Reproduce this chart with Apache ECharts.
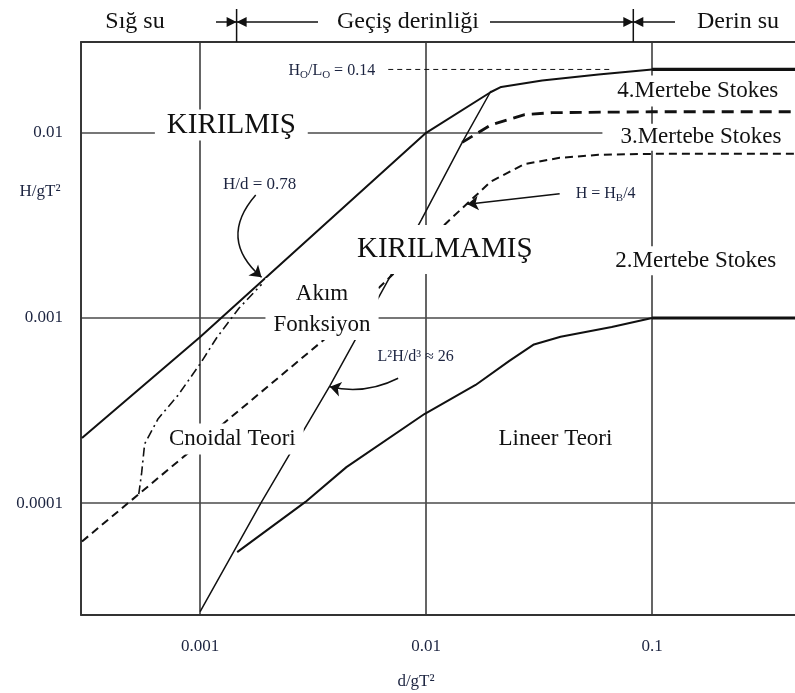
<!DOCTYPE html>
<html><head><meta charset="utf-8">
<script src="https://cdn.jsdelivr.net/npm/echarts@6/dist/echarts.min.js"></script>
<style>html,body{margin:0;padding:0;background:#fff}#c{width:795px;height:693px}</style>
</head><body><div id="c"></div>
<script>
// ---- axes ----
const xTickLabels = ['0.001', '0.01', '0.1'];
const yTickLabels = ['0.0001', '0.001', '0.01'];
const xRange = [0.000297, 0.447];
const yRange = [0.0000249, 0.03095];

// ---- curves (d/gT², H/gT²) ----
const breakingLimit = [[0.0003,0.000225],[0.001,0.00079],[0.01,0.01],[0.01936,0.01662],[0.02149,0.01771],[0.03263,0.0192],[0.0579,0.02065],[0.1,0.022]];
const deepBreaking = [[0.1,0.022],[0.45,0.022]];
const steepnessRef = [[0.0068,0.022],[0.066,0.022]];
const quarterBreaking = [[0.0003,0.0000621],[0.00375,0.000812],[0.01275,0.0034],[0.01936,0.00546],[0.02732,0.00679],[0.03897,0.00733],[0.0579,0.00761],[0.1,0.0077],[0.45,0.0077]];
const stokes34 = [[0.01445,0.00888],[0.01936,0.01104],[0.02732,0.01254],[0.0362,0.01286],[0.1,0.013],[0.45,0.013]];
const ursell = [[0.001,0.000026],[0.00187,0.0001016],[0.00375,0.00043],[0.00954,0.0034],[0.01445,0.00888],[0.01936,0.01683]];
const linearLimit = [[0.001459,0.0000544],[0.002924,0.0001016],[0.00444,0.0001566],[0.00983,0.000303],[0.01656,0.000435],[0.02336,0.000587],[0.03001,0.00072],[0.03937,0.000793],[0.0663,0.000894],[0.1,0.001]];
const deepLinear = [[0.1,0.001],[0.45,0.001]];
const streamLimit = [[0.000535,0.0001118],[0.000551,0.0001457],[0.000568,0.000209],[0.000652,0.000286],[0.000796,0.000381],[0.001,0.000566],[0.001184,0.000783],[0.001488,0.001132],[0.00187,0.00152]];
const depthZoneLimits = [0.00145, 0.0826];

// ---- texts ----
const zoneTexts = ['Sığ su', 'Geçiş derinliği', 'Derin su'];
const regionTexts = ['KIRILMIŞ', 'KIRILMAMIŞ', 'Akım\nFonksiyon', 'Cnoidal Teori', 'Lineer Teori', '2.Mertebe Stokes', '3.Mertebe Stokes', '4.Mertebe Stokes'];
const noteTexts = ['H/d = 0.78', 'H = H{s|B}/4', 'L²H/d³ ≈ 26', 'H{s|O}/L{s|O} = 0.14'];
const axisNames = ['d/gT²', 'H/gT²'];

const SERIF = '"Liberation Serif","Times New Roman",serif';
const INK = '#111';
const NOTE = '#1c2440';

function tickFmt(labels) {
  return function (v) {
    const l = Math.log10(v), r = Math.round(l);
    if (Math.abs(l - r) > 1e-6) return '';
    const s = labels.find(t => Math.round(Math.log10(parseFloat(t))) === r);
    return s || '';
  };
}

function lineSeries(data, width, type, z) {
  return { type: 'line', data: data, showSymbol: false, symbol: 'none', silent: true, z: z || 3,
    lineStyle: { color: INK, width: width, type: type || 'solid' } };
}
function arrowSeries(from, to, curveness) {
  return { type: 'lines', coordinateSystem: 'cartesian2d', silent: true, z: 4,
    symbol: ['none', 'arrow'], symbolSize: 11,
    lineStyle: { color: INK, width: 1.5, type: 'solid', curveness: curveness, opacity: 1 },
    data: [{ coords: [from, to] }] };
}

const chart = echarts.init(document.getElementById('c'), null, { renderer: 'canvas' });
const axisCommon = {
  type: 'log', logBase: 10,
  axisLine: { show: true, onZero: false, lineStyle: { color: '#333', width: 1.8 } },
  axisTick: { show: false },
  splitLine: { show: true, lineStyle: { color: '#4a4a4a', width: 1.7 } },
  minorTick: { show: false }, minorSplitLine: { show: false }
};
chart.setOption({
  animation: false,
  backgroundColor: '#fff',
  grid: { left: 81, right: -4, top: 42, bottom: 78, show: false, containLabel: false, outerBoundsMode: 'none' },
  xAxis: [
    Object.assign({}, axisCommon, { min: xRange[0], max: xRange[1], position: 'bottom',
      axisLabel: { formatter: tickFmt(xTickLabels), margin: 23, fontFamily: SERIF, fontSize: 17, color: NOTE } }),
    Object.assign({}, axisCommon, { min: xRange[0], max: xRange[1], position: 'top',
      splitLine: { show: false }, axisLabel: { show: false } })
  ],
  yAxis: Object.assign({}, axisCommon, { min: yRange[0], max: yRange[1],
    axisLabel: { formatter: tickFmt(yTickLabels), margin: 18, fontFamily: SERIF, fontSize: 17, color: NOTE } }),
  series: [
    lineSeries(breakingLimit, 2),
    lineSeries(deepBreaking, 3.2),
    lineSeries(steepnessRef, 1, [5, 4]),
    lineSeries(quarterBreaking, 2, [8, 5]),
    lineSeries(stokes34, 2.8, [12, 7]),
    lineSeries(ursell, 1.5),
    lineSeries(linearLimit, 2),
    lineSeries(deepLinear, 3.2),
    lineSeries(streamLimit, 1.6, [9, 4, 2, 4]),
    arrowSeries([0.001762, 0.004624], [0.00187, 0.00166], -0.5),
    arrowSeries([0.00752, 0.000473], [0.00375, 0.000425], 0.18),
    arrowSeries([0.039, 0.004685], [0.01523, 0.00412], 0)
  ]
});

const px = p => chart.convertToPixel({ xAxisIndex: 0, yAxisIndex: 0 }, p);
const g = [];
function txt(text, pos, size, opts) {
  const p = px(pos);
  g.push({ type: 'text', x: p[0], y: p[1], z: 100, silent: true,
    style: Object.assign({ text: text, fontFamily: SERIF, fontSize: size, fill: INK,
      align: 'center', verticalAlign: 'middle' }, opts || {}) });
}
function ptxt(text, x, y, size, fill) {
  g.push({ type: 'text', x: x, y: y, z: 100, silent: true,
    style: { text: text, fontFamily: SERIF, fontSize: size, fill: fill, align: 'center', verticalAlign: 'middle' } });
}
const box = (pad) => ({ backgroundColor: '#fff', padding: pad });

// region labels (data coordinates)
txt(regionTexts[0], [0.001374, 0.01104], 29, box([1, 12]));
txt(regionTexts[1], [0.0121, 0.002348], 29, box([10, 12]));
txt(regionTexts[2], [0.003463, 0.001118], 23, Object.assign(box([0, 8]), { lineHeight: 31 }));
txt(regionTexts[3], [0.001388, 0.000222], 23, box([4, 8]));
txt(regionTexts[4], [0.03736, 0.000222], 23, box([4, 8]));
txt(regionTexts[5], [0.1561, 0.002038], 23, box([3, 10]));
txt(regionTexts[6], [0.1645, 0.00946], 23, box([2, 18]));
txt(regionTexts[7], [0.1594, 0.01683], 23, box([4, 14]));
// notes
const subRich = { s: { fontSize: 11, lineHeight: 12, verticalAlign: 'bottom', fontFamily: SERIF, fill: NOTE } };
txt(noteTexts[0], [0.001834, 0.005256], 17, { fill: NOTE });
txt(noteTexts[1], [0.06233, 0.004685], 16, { fill: NOTE, rich: subRich, lineHeight: 20 });
txt(noteTexts[2], [0.008992, 0.000616], 16, { fill: NOTE });
txt(noteTexts[3], [0.003825, 0.02174], 16, Object.assign(box([0, 2]), { fill: NOTE, rich: subRich, lineHeight: 20 }));

// axis names
ptxt(axisNames[0], 416, 682, 17, NOTE);
ptxt(axisNames[1], 40, 192, 17, NOTE);

// depth zones header
const s1 = px([depthZoneLimits[0], yRange[1]])[0];
const s2 = px([depthZoneLimits[1], yRange[1]])[0];
const topY = px([depthZoneLimits[0], yRange[1]])[1];
const ay = 22;
const ls = { stroke: INK, lineWidth: 1.5 };
function seg(x1, x2) { g.push({ type: 'line', z: 100, silent: true, shape: { x1: x1, y1: ay, x2: x2, y2: ay }, style: ls }); }
function tick(x) { g.push({ type: 'line', z: 100, silent: true, shape: { x1: x, y1: 9, x2: x, y2: topY }, style: ls }); }
function head(x, dir) {
  g.push({ type: 'polygon', z: 101, silent: true, shape: { points: [[x, ay], [x - dir * 10, ay - 5], [x - dir * 10, ay + 5]] }, style: { fill: INK } });
}
seg(216, s1); seg(s1, 318); tick(s1); head(s1, 1); head(s1, -1);
seg(490, s2); seg(s2, 675); tick(s2); head(s2, 1); head(s2, -1);
ptxt(zoneTexts[0], 135, ay, 24, INK);
ptxt(zoneTexts[1], 408, ay, 24, INK);
ptxt(zoneTexts[2], 738, ay, 24, INK);

chart.setOption({ graphic: g });
</script></body></html>
